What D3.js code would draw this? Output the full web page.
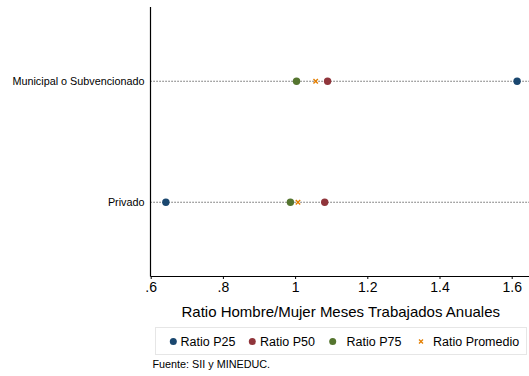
<!DOCTYPE html>
<html>
<head>
<meta charset="utf-8">
<script src="https://cdn.jsdelivr.net/npm/d3@7"></script>
<style>
  html, body { margin: 0; padding: 0; background: #fff; }
  svg { display: block; font-family: "Liberation Sans", Arial, sans-serif; }
</style>
</head>
<body>
<svg id="chart" width="529" height="376"></svg>
<script>
const categories = ["Municipal o Subvencionado", "Privado"];
const ratioP25 = [1.615, 0.642];
const ratioP50 = [1.090, 1.082];
const ratioP75 = [1.004, 0.987];
const ratioPromedio = [1.057, 1.008];
const xTicks = [0.6, 0.8, 1.0, 1.2, 1.4, 1.6];
const xTickLabels = [".6", ".8", "1", "1.2", "1.4", "1.6"];
const seriesNames = ["Ratio P25", "Ratio P50", "Ratio P75", "Ratio Promedio"];
const seriesColors = ["#1a476f", "#90353b", "#55752f", "#e37e00"];
const seriesValues = [ratioP25, ratioP50, ratioP75, ratioPromedio];

const svg = d3.select("#chart");
const pLeft = 150.5, pRight = 529, pTop = 7, pBottom = 276.5;

const x = d3.scaleLinear().domain([0.6, 1.6]).range([150.7, 511.7]);
const y = d3.scalePoint().domain(categories).range([pTop, pBottom]).padding(0.614);

// dotted guide lines
svg.append("g").selectAll("line").data(categories).join("line")
  .attr("x1", pLeft).attr("x2", pRight)
  .attr("y1", d => y(d)).attr("y2", d => y(d))
  .attr("stroke", "#333").attr("stroke-width", 1.2)
  .attr("stroke-dasharray", "1.1,1.9");

// y axis
const yAxis = svg.append("g").attr("transform", `translate(${pLeft},0)`)
  .call(d3.axisLeft(y).tickSize(0).tickPadding(6));
yAxis.select(".domain").attr("d", `M0,${pTop}V${pBottom}`).attr("stroke", "#000").attr("stroke-width", 1.2);
yAxis.selectAll("text").attr("font-size", "10.8px").attr("fill", "#000")
  .attr("font-family", "Liberation Sans, Arial, sans-serif");

// x axis
const xAxis = svg.append("g").attr("transform", `translate(0,${pBottom})`)
  .call(d3.axisBottom(x).tickValues(xTicks).tickFormat((d, i) => xTickLabels[i]).tickSize(2.5).tickPadding(3));
xAxis.select(".domain").attr("d", `M${pLeft},0H${pRight}`).attr("stroke", "#000").attr("stroke-width", 1.2);
xAxis.selectAll(".tick line").attr("stroke", "#000");
xAxis.selectAll("text").attr("font-size", "14px").attr("fill", "#000")
  .attr("font-family", "Liberation Sans, Arial, sans-serif");

// axis title
svg.append("text").attr("x", (pLeft + pRight) / 2 + 1).attr("y", 317)
  .attr("text-anchor", "middle").attr("font-size", "15px").attr("fill", "#000")
  .text("Ratio Hombre/Mujer Meses Trabajados Anuales");

// points
seriesValues.forEach((vals, si) => {
  const g = svg.append("g");
  categories.forEach((c, ci) => {
    const cx = x(vals[ci]), cy = y(c);
    if (si < 3) {
      g.append("circle").attr("cx", cx).attr("cy", cy).attr("r", 3.7)
        .attr("fill", seriesColors[si]);
    } else {
      const s = 2.2;
      g.append("path").attr("d", `M${cx - s},${cy - s}L${cx + s},${cy + s}M${cx - s},${cy + s}L${cx + s},${cy - s}`)
        .attr("stroke", seriesColors[si]).attr("stroke-width", 1.4).attr("fill", "none");
    }
  });
});

// legend
const lg = svg.append("g");
lg.append("rect").attr("x", 155.5).attr("y", 327.5).attr("width", 371).attr("height", 27)
  .attr("fill", "#fff").attr("stroke", "#e6e6e6").attr("stroke-width", 1);
const markerX = [173.3, 252.3, 332.7, 421];
const textX = [180.5, 260, 346.5, 433];
const ly = 341.5;
seriesNames.forEach((name, i) => {
  if (i < 3) {
    lg.append("circle").attr("cx", markerX[i]).attr("cy", ly).attr("r", 3.5).attr("fill", seriesColors[i]);
  } else {
    const s = 2, cx = markerX[i], cy = ly;
    lg.append("path").attr("d", `M${cx - s},${cy - s}L${cx + s},${cy + s}M${cx - s},${cy + s}L${cx + s},${cy - s}`)
      .attr("stroke", seriesColors[i]).attr("stroke-width", 1.3);
  }
  lg.append("text").attr("x", textX[i]).attr("y", ly).attr("dy", "0.35em")
    .attr("font-size", "12.5px").attr("fill", "#000").text(name);
});

// source note
svg.append("text").attr("x", 152.5).attr("y", 368).attr("font-size", "10.8px").attr("fill", "#000")
  .text("Fuente: SII y MINEDUC.");
</script>
</body>
</html>
